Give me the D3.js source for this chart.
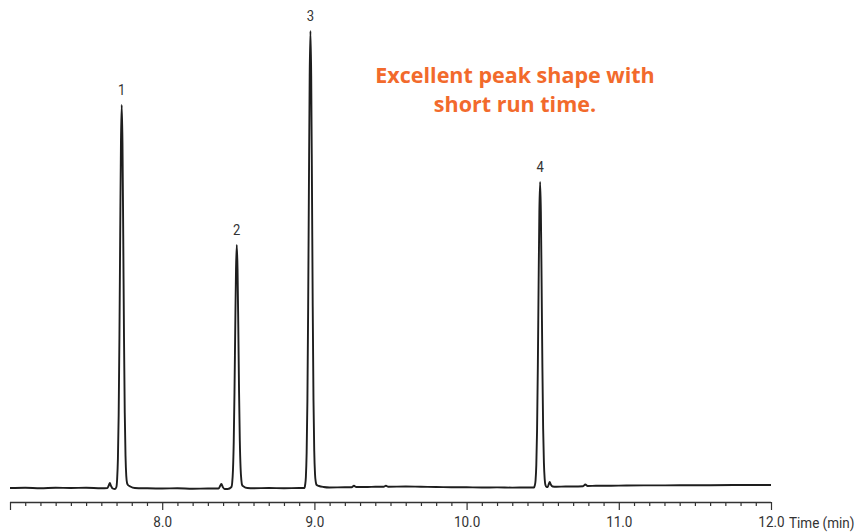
<!DOCTYPE html>
<html><head><meta charset="utf-8">
<script src="https://cdn.jsdelivr.net/npm/d3@7"></script>
<style>body{margin:0;background:#fff}</style>
</head><body>
<svg id="c" width="857" height="532"></svg>
<script>
// Chromatogram trace: time (min) and detector signal (arbitrary units)
const times = [
  7.00, 7.10, 7.20, 7.30, 7.40, 7.50, 7.60, 7.640, 7.650, 7.656, 7.664, 7.675, 7.690,
  7.699, 7.704, 7.709, 7.714, 7.719, 7.724, 7.729, 7.734, 7.739, 7.744, 7.749, 7.754, 7.759, 7.764, 7.769, 7.775, 7.790,
  7.82, 7.90, 8.00, 8.10, 8.20, 8.30, 8.370, 8.382, 8.389, 8.398, 8.41, 8.43,
  8.455, 8.460, 8.465, 8.470, 8.475, 8.480, 8.485, 8.490, 8.495, 8.500, 8.505, 8.510, 8.515, 8.520, 8.525, 8.535, 8.56,
  8.60, 8.70, 8.80, 8.90,
  8.935, 8.939, 8.944, 8.949, 8.954, 8.959, 8.964, 8.969, 8.974, 8.979, 8.984, 8.989, 8.994, 8.999, 9.004, 9.009, 9.015, 9.03, 9.06,
  9.10, 9.20, 9.245, 9.26, 9.275, 9.35, 9.40, 9.455, 9.47, 9.485, 9.60, 9.70, 9.80, 9.90, 10.00, 10.10, 10.20, 10.30, 10.40,
  10.443, 10.448, 10.453, 10.458, 10.463, 10.468, 10.473, 10.478, 10.483, 10.488, 10.493, 10.498, 10.503, 10.508, 10.513, 10.518,
  10.525, 10.533, 10.540, 10.546, 10.553, 10.565, 10.59,
  10.65, 10.70, 10.765, 10.78, 10.795, 10.85, 10.95, 11.05, 11.20, 11.40, 11.60, 11.80, 12.00
];
const signal = [
  0, 0.3, -0.2, 0.2, 0, 0.2, -0.3, 0, 3, 5, 2, -0.5, -1,
  1, 9, 29, 73, 151, 253, 345, 383, 345, 253, 151, 75, 32, 12, 5, 3, 1.5,
  0, -0.3, -0.5, -0.3, -0.8, -0.5, -0.5, 2.5, 4, 1, -1, -1,
  1, 5.5, 18, 46, 96, 161, 219, 243, 219, 161, 96, 47, 20, 8, 3, 1.5, 0,
  -0.3, 0, -0.2, 0,
  0, 3, 11, 35, 87, 181, 302, 412, 457, 412, 302, 181, 88, 37, 14, 6, 3, 2, 1,
  0.5, 0.8, 0.8, 2.2, 1, 1, 1.3, 1.2, 2.2, 1.3, 1.5, 1.2, 1, 0.8, 0.7, 0.5, 0.6, 0.4, 0.5,
  0.5, 2.5, 7.5, 23, 58, 121, 202, 276, 306, 276, 202, 121, 59, 25, 9, 3,
  1, 1, 4, 6, 3.5, 1.5, 1.2,
  1.5, 1.5, 1.8, 3.5, 2, 2.2, 2.3, 2.5, 2.6, 2.7, 2.8, 3, 3
];
const peakLabels = ["1", "2", "3", "4"];
const peakTimes = [7.734, 8.490, 8.974, 10.483];
const peakHeights = [383, 243, 457, 306];
const majorTicks = [7, 8, 9, 10, 11, 12];
const majorTickLabels = ["", "8.0", "9.0", "10.0", "11.0", "12.0"];
const axisTitle = "Time (min)";
const noteLines = ["Excellent peak shape with", "short run time."];

const svg = d3.select("#c");
const x = d3.scaleLinear().domain([7, 12]).range([10, 771]);
const y = d3.scaleLinear().domain([0, 460]).range([488, 28]);
const axisY = 502;

const pts = times.map((t, i) => [t, signal[i]]);
svg.append("path")
  .datum(pts)
  .attr("fill", "none")
  .attr("stroke", "#1e1e1e")
  .attr("stroke-width", 1.9)
  .attr("stroke-linejoin", "round")
  .attr("d", d3.line().x(d => x(d[0])).y(d => y(d[1])).curve(d3.curveMonotoneX));

const labelFont = "Roboto, sans-serif";
const squeeze = "scale(0.87,1)";

// peak labels
svg.append("g").selectAll("g").data(peakLabels).join("g")
  .attr("transform", (d, i) => `translate(${x(peakTimes[i])},${y(peakHeights[i]) - 10})`)
  .append("text")
  .attr("transform", squeeze)
  .attr("text-anchor", "middle")
  .attr("font-family", labelFont)
  .attr("font-size", 15)
  .attr("fill", "#333")
  .text(d => d);

// minor ticks
const minor = d3.range(70, 121).filter(v => v % 10 !== 0).map(v => v / 10);
const gMinor = svg.append("g").attr("transform", `translate(0,${axisY})`)
  .call(d3.axisBottom(x).tickValues(minor).tickSize(4).tickSizeOuter(0).tickFormat(""));
gMinor.select(".domain").remove();
gMinor.selectAll("line").attr("stroke", "#333").attr("stroke-width", 1.2);

const gMajor = svg.append("g").attr("transform", `translate(0,${axisY})`)
  .call(d3.axisBottom(x).tickValues(majorTicks).tickSize(8).tickSizeOuter(0)
    .tickFormat((d, i) => majorTickLabels[i]));
gMajor.select(".domain").attr("stroke", "#333").attr("stroke-width", 1.3)
  .attr("d", `M${x(7)},0.5H${x(12)}`);
gMajor.selectAll("line").attr("stroke", "#333").attr("stroke-width", 1.2);
gMajor.selectAll("text")
  .attr("y", 25.5).attr("dy", 0)
  .attr("transform", squeeze)
  .attr("font-family", labelFont)
  .attr("font-size", 15.5)
  .attr("fill", "#333");

svg.append("g").attr("transform", `translate(${x(12) + 18},${axisY + 25.5})`)
  .append("text")
  .attr("transform", squeeze)
  .attr("font-family", labelFont)
  .attr("font-size", 15.5)
  .attr("fill", "#333")
  .text(axisTitle);

// annotation
svg.append("g").selectAll("text").data(noteLines).join("text")
  .attr("x", 515)
  .attr("y", (d, i) => 83 + i * 28.5)
  .attr("text-anchor", "middle")
  .attr("font-family", "'Open Sans', sans-serif")
  .attr("font-weight", 700)
  .attr("font-size", 21.5)
  .attr("fill", "#f26a2c")
  .text(d => d);
</script>
</body></html>
